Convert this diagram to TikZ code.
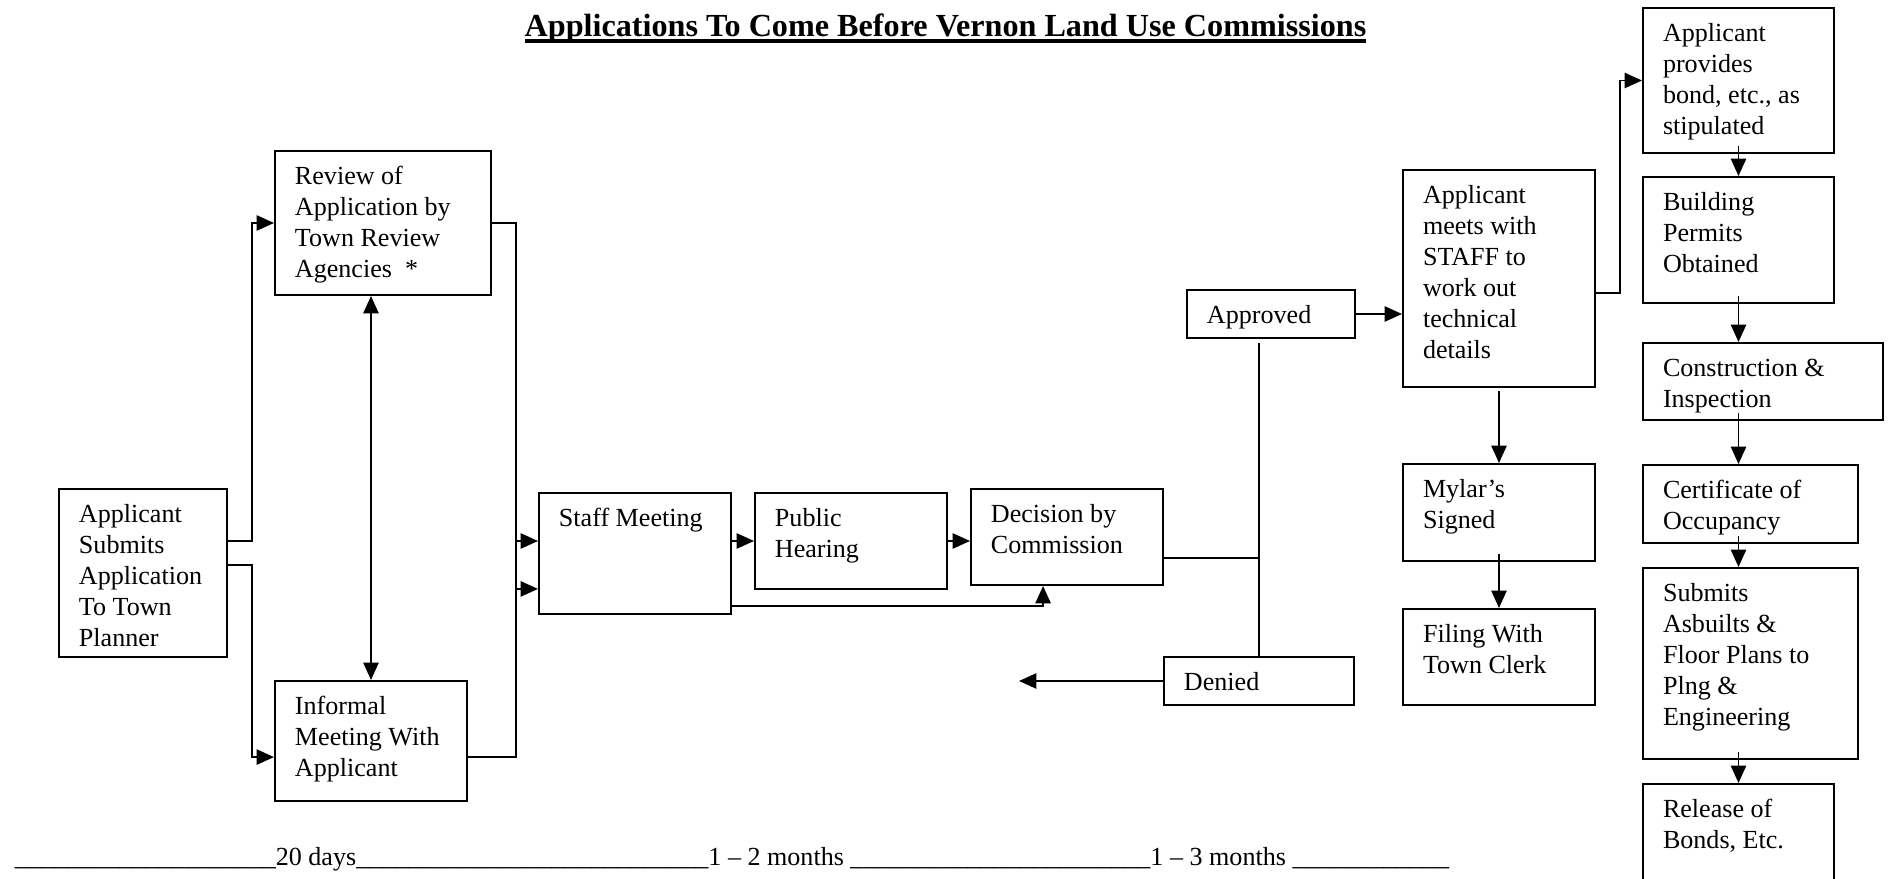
\documentclass[tikz,border=0pt]{standalone}
\usepackage{fontspec}
\setmainfont{Liberation Serif}
\usetikzlibrary{arrows.meta}

\newlength\px
\setlength\px{0.46pt}
% top-left text in a box of given size (in px)
\newcommand{\boxtext}[3]{\parbox[t][#2\px][t]{#1\px}{\raggedright\leftskip=20\px\rule{0pt}{34\px}#3}}
\newcommand{\ulbox}[1]{\setbox0\hbox{#1}\rlap{\rule[-3pt]{\wd0}{1.4pt}}\box0}
\newcommand{\blanks}[1]{\foreach \k in {1,...,#1}{\_}}

\begin{document}
\begin{tikzpicture}[x=0.46pt, y=-0.46pt, line width=0.9pt,
    box/.style={draw, anchor=north west, inner sep=0pt, font=\fontsize{12}{14.2}\selectfont},
    arr/.style={-{Triangle[length=8pt,width=7pt]}},
    arrs/.style={{Triangle[length=8pt,width=7pt]}-{Triangle[length=8pt,width=7pt]}}]
    \useasboundingbox (0,0) rectangle (1891,878);

    \node[anchor=base, font=\fontsize{14.8}{17}\selectfont\bfseries] (title) at (945.5,36)
      {\ulbox{Applications To Come Before Vernon Land Use Commissions}};

    % first stage
    \node[box] (sub) at (58,488) {\boxtext{168}{168}{Applicant\\Submits\\Application\\To Town\\Planner}};
    \node[box] (rev) at (274,150) {\boxtext{216}{144}{Review of\\Application by\\Town Review\\Agencies \ *}};
    \node[box] (inf) at (274,680) {\boxtext{192}{120}{Informal\\Meeting With\\Applicant}};
    \node[box] (stf) at (538,492) {\boxtext{192}{121}{Staff Meeting}};
    \node[box] (pub) at (754,492) {\boxtext{192}{96}{Public\\Hearing}};
    \node[box] (dec) at (970,488) {\boxtext{192}{96}{Decision by\\Commission}};
    \node[box] (app) at (1186,289) {\boxtext{168}{48}{Approved}};
    \node[box] (den) at (1163,656) {\boxtext{190}{48}{Denied}};

    % after approval
    \node[box] (mts) at (1402,169) {\boxtext{192}{217}{Applicant\\meets with\\STAFF to\\work out\\technical\\details}};
    \node[box] (myl) at (1402,463) {\boxtext{192}{97}{Mylar's\\Signed}};
    \node[box] (fil) at (1402,608) {\boxtext{192}{96}{Filing With\\Town Clerk}};
    \node[box] (bnd) at (1642,7) {\boxtext{191}{145}{Applicant\\provides\\bond, etc., as\\stipulated}};
    \node[box] (bld) at (1642,176) {\boxtext{191}{126}{Building\\Permits\\Obtained}};
    \node[box] (con) at (1642,342) {\boxtext{240}{77}{Construction \&\\Inspection}};
    \node[box] (crt) at (1642,464) {\boxtext{215}{78}{Certificate of\\Occupancy}};
    \node[box] (asb) at (1642,567) {\boxtext{215}{191}{Submits\\Asbuilts \&\\Floor Plans to\\Plng \&\\Engineering}};
    \node[box] (rel) at (1642,783) {\boxtext{191}{120}{Release of\\Bonds, Etc.}};

    \draw[arr] ([yshift=14.7pt]sub.east) -- ++(24,0) |- (rev.west);
    \draw[arr] ([yshift=3.7pt]sub.east) -- ++(24,0) |- ([yshift=-7.4pt]inf.west);
    \draw[arrs] (inf.north |- rev.south) -- (inf.north);
    \draw (rev.east) -- ++(24,0) |- ([yshift=-7.4pt]inf.east);
    \draw[arr] (rev.east) ++(24,0) |- ([yshift=5.75pt]stf.west);
    \draw[arr] (rev.east) ++(24,0) |- ([yshift=-16.3pt]stf.west);
    \draw[arr] (stf.east |- pub.west) -- (pub.west);
    \draw[arr] (pub.east) -- (pub.east -| dec.west);
    \draw[arr] ([yshift=-24.1pt]stf.east) -| ([xshift=-11pt]dec.south);
    \draw ([yshift=-9.7pt]dec.east) -- ([yshift=-9.7pt]dec.east -| den.north);
    \draw[shorten >=2pt] (den.north) -- (den.north |- app.south);
    \draw[arr] (app.east) -- (app.east -| mts.west);
    \draw[arr] (den.west) -- ++(-144,0);
    \draw[arr] ([yshift=-6.7pt]mts.east) -- ++(24,0) |- (bnd.west);
    \draw[arr, shorten <=1.5pt] (mts.south) -- (myl.north);
    \draw[arr, shorten <=-3.5pt] (myl.south) -- (fil.north);
    \foreach \a/\b in {bnd/bld, bld/con, con/crt, crt/asb, asb/rel}
      \draw[arr, shorten <=-3.5pt] (bnd.south |- \a.south) -- (bnd.south |- \b.north);

    \node[anchor=base west, inner sep=0pt, font=\fontsize{12}{14}\selectfont] (time) at (14,865)
      {\blanks{20}20 days\blanks{27}1 – 2 months \blanks{23}1 – 3 months \blanks{12}};
\end{tikzpicture}
\end{document}
